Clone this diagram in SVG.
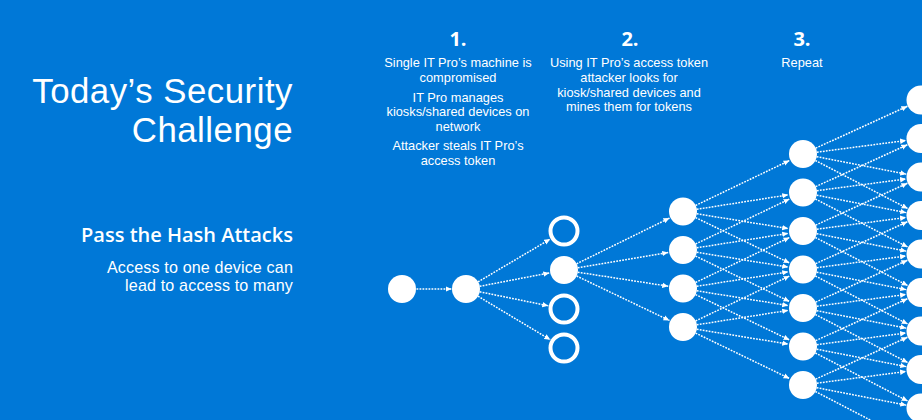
<svg xmlns="http://www.w3.org/2000/svg" width="922" height="420" viewBox="0 0 922 420">
<defs>
<style>
.t{font-family:"Liberation Sans",Arial,sans-serif;fill:#fff}
.o{font-family:"Open Sans","Noto Sans","Liberation Sans",sans-serif}
.title{font-size:34.8px;text-anchor:end;letter-spacing:0.5px}
.sub{font-size:20px;font-weight:600;text-anchor:end}
.body{font-size:16.1px;text-anchor:end;letter-spacing:0.15px}
.num{font-size:20px;font-weight:700;text-anchor:middle}
.step{font-size:12.8px;text-anchor:middle}
.n{fill:#fff}
.h{fill:#0078d7;stroke:#fff;stroke-width:4}
#edges line{stroke:#fff;stroke-width:1.5;stroke-dasharray:1.8 1.2;marker-end:url(#ah)}
</style>
<marker id="ah" markerUnits="userSpaceOnUse" markerWidth="6" markerHeight="6" refX="6" refY="3" orient="auto">
<path d="M0,0.3 L6,3 L0,5.7 z" fill="#fff"/>
</marker>
</defs>
<rect width="922" height="420" fill="#0078d7"/>

<g id="heading">
<text class="t title"><tspan x="293" y="103">Today’s Security</tspan><tspan x="293" y="142">Challenge</tspan></text>
<text class="t o sub" x="293" y="242">Pass the Hash Attacks</text>
<text class="t body"><tspan x="293" y="273">Access to one device can</tspan><tspan x="293" y="291">lead to access to many</tspan></text>
</g>

<g id="step1">
<text class="t o num" x="458" y="46">1.</text>
<text class="t step"><tspan x="458" y="67.3">Single IT Pro’s machine is</tspan><tspan x="458" y="82">compromised</tspan></text>
<text class="t step"><tspan x="458" y="101.7">IT Pro manages</tspan><tspan x="458" y="116.2">kiosks/shared devices on</tspan><tspan x="458" y="130.7">network</tspan></text>
<text class="t step"><tspan x="458" y="150">Attacker steals IT Pro’s</tspan><tspan x="458" y="165">access token</tspan></text>
</g>
<g id="step2">
<text class="t o num" x="630" y="46">2.</text>
<text class="t step"><tspan x="629" y="67.3">Using IT Pro’s access token</tspan><tspan x="629" y="82">attacker looks for</tspan><tspan x="629" y="96.7">kiosk/shared devices and</tspan><tspan x="629" y="111.3">mines them for tokens</tspan></text>
</g>
<g id="step3">
<text class="t o num" x="802" y="46">3.</text>
<text class="t step" x="802" y="67.3">Repeat</text>
</g>

<g id="edges">
<line x1="416.5" y1="289" x2="451.5" y2="289"/>
<line x1="478" y1="281.9" x2="550.2" y2="239.1"/>
<line x1="479.7" y1="286.3" x2="549.3" y2="272.9"/>
<line x1="479.7" y1="291.8" x2="548.3" y2="305.8"/>
<line x1="478" y1="296.2" x2="550.3" y2="339.7"/>
<line x1="576.6" y1="263.8" x2="669.5" y2="218.1"/>
<line x1="577.8" y1="267.7" x2="668.2" y2="252.5"/>
<line x1="577.8" y1="272.2" x2="668.2" y2="286.2"/>
<line x1="576.6" y1="276" x2="669.5" y2="320.5"/>
<line x1="695.6" y1="205.45" x2="789.5" y2="160.48"/>
<line x1="696.8" y1="209.31" x2="788.2" y2="194.85"/>
<line x1="696.8" y1="213.75" x2="788.2" y2="228.59"/>
<line x1="695.6" y1="217.59" x2="789.5" y2="262.97"/>
<line x1="695.6" y1="243.95" x2="789.5" y2="198.98"/>
<line x1="696.8" y1="247.81" x2="788.2" y2="233.35"/>
<line x1="696.8" y1="252.25" x2="788.2" y2="267.09"/>
<line x1="695.6" y1="256.09" x2="789.5" y2="301.47"/>
<line x1="695.6" y1="282.45" x2="789.5" y2="237.48"/>
<line x1="696.8" y1="286.31" x2="788.2" y2="271.85"/>
<line x1="696.8" y1="290.75" x2="788.2" y2="305.59"/>
<line x1="695.6" y1="294.59" x2="789.5" y2="339.97"/>
<line x1="695.6" y1="320.95" x2="789.5" y2="275.98"/>
<line x1="696.8" y1="324.81" x2="788.2" y2="310.35"/>
<line x1="696.8" y1="329.25" x2="788.2" y2="344.09"/>
<line x1="695.6" y1="333.09" x2="789.5" y2="378.47"/>
<line x1="815.7" y1="148.18" x2="907.4" y2="106.24"/>
<line x1="816.9" y1="152.18" x2="906.1" y2="140.45"/>
<line x1="816.7" y1="156.68" x2="906.3" y2="174.13"/>
<line x1="815.4" y1="160.47" x2="907.7" y2="208.57"/>
<line x1="815.7" y1="186.68" x2="907.4" y2="144.74"/>
<line x1="816.9" y1="190.68" x2="906.1" y2="178.95"/>
<line x1="816.7" y1="195.18" x2="906.3" y2="212.63"/>
<line x1="815.4" y1="198.97" x2="907.7" y2="247.07"/>
<line x1="815.7" y1="225.18" x2="907.4" y2="183.24"/>
<line x1="816.9" y1="229.18" x2="906.1" y2="217.45"/>
<line x1="816.7" y1="233.68" x2="906.3" y2="251.13"/>
<line x1="815.4" y1="237.47" x2="907.7" y2="285.57"/>
<line x1="815.7" y1="263.68" x2="907.4" y2="221.74"/>
<line x1="816.9" y1="267.68" x2="906.1" y2="255.95"/>
<line x1="816.7" y1="272.18" x2="906.3" y2="289.63"/>
<line x1="815.4" y1="275.97" x2="907.7" y2="324.07"/>
<line x1="815.7" y1="302.18" x2="907.4" y2="260.24"/>
<line x1="816.9" y1="306.18" x2="906.1" y2="294.45"/>
<line x1="816.7" y1="310.68" x2="906.3" y2="328.13"/>
<line x1="815.4" y1="314.47" x2="907.7" y2="362.57"/>
<line x1="815.7" y1="340.68" x2="907.4" y2="298.74"/>
<line x1="816.9" y1="344.68" x2="906.1" y2="332.95"/>
<line x1="816.7" y1="349.18" x2="906.3" y2="366.63"/>
<line x1="815.4" y1="352.97" x2="907.7" y2="401.07"/>
<line x1="815.7" y1="379.18" x2="907.4" y2="337.24"/>
<line x1="816.9" y1="383.18" x2="906.1" y2="371.45"/>
<line x1="816.7" y1="387.68" x2="906.3" y2="405.13"/>
<line x1="815.4" y1="391.47" x2="907.7" y2="439.57"/>
</g>

<g id="n0"><circle class="n" cx="402" cy="289" r="14"/></g>
<g id="n1"><circle class="n" cx="466" cy="289" r="14"/></g>
<g id="n2a"><circle class="h" cx="564" cy="231" r="13.5"/></g>
<g id="n2b"><circle class="n" cx="564" cy="270" r="14"/></g>
<g id="n2c"><circle class="h" cx="564" cy="309" r="13.5"/></g>
<g id="n2d"><circle class="h" cx="564" cy="348" r="13.5"/></g>
<g id="n3a"><circle class="n" cx="683" cy="211.5" r="14"/></g>
<g id="n3b"><circle class="n" cx="683" cy="250" r="14"/></g>
<g id="n3c"><circle class="n" cx="683" cy="288.5" r="14"/></g>
<g id="n3d"><circle class="n" cx="683" cy="327" r="14"/></g>
<g id="n4a"><circle class="n" cx="803" cy="154" r="14"/></g>
<g id="n4b"><circle class="n" cx="803" cy="192.5" r="14"/></g>
<g id="n4c"><circle class="n" cx="803" cy="231" r="14"/></g>
<g id="n4d"><circle class="n" cx="803" cy="269.5" r="14"/></g>
<g id="n4e"><circle class="n" cx="803" cy="308" r="14"/></g>
<g id="n4f"><circle class="n" cx="803" cy="346.5" r="14"/></g>
<g id="n4g"><circle class="n" cx="803" cy="385" r="14"/></g>
<g id="n5a"><circle class="n" cx="921" cy="100" r="14.5"/></g>
<g id="n5b"><circle class="n" cx="921" cy="138.5" r="14.5"/></g>
<g id="n5c"><circle class="n" cx="921" cy="177" r="14.5"/></g>
<g id="n5d"><circle class="n" cx="921" cy="215.5" r="14.5"/></g>
<g id="n5e"><circle class="n" cx="921" cy="254" r="14.5"/></g>
<g id="n5f"><circle class="n" cx="921" cy="292.5" r="14.5"/></g>
<g id="n5g"><circle class="n" cx="921" cy="331" r="14.5"/></g>
<g id="n5h"><circle class="n" cx="921" cy="369.5" r="14.5"/></g>
<g id="n5i"><circle class="n" cx="921" cy="408" r="14.5"/></g>
</svg>
